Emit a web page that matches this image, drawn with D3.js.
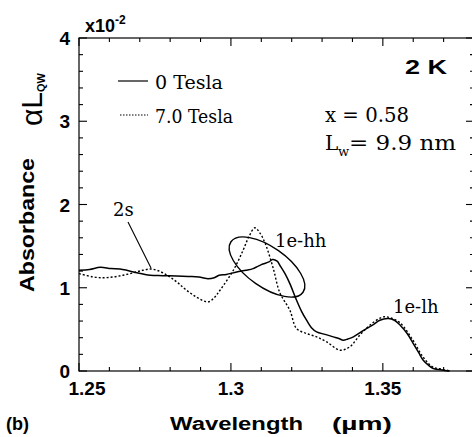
<!DOCTYPE html>
<html>
<head>
<meta charset="utf-8">
<script src="https://cdn.jsdelivr.net/npm/d3@7"></script>
<style>
  body { margin: 0; background: #fff; }
  svg { display: block; }
  .sans { font-family: "Liberation Sans", Arial, sans-serif; font-weight: bold; }
  .serif { font-family: "DejaVu Serif", "Liberation Serif", serif; }
</style>
</head>
<body>
<svg width="472" height="437"></svg>
<script>
// Chart size and plot frame
const width = 472;
const height = 437;
const margin = { left: 79, top: 38, right: 474, bottom: 371 };

// 0 Tesla curve (solid), wavelength in um, absorbance in units of 1e-2
const wl0 = [1.25, 1.2535, 1.257, 1.2605, 1.2635, 1.2657, 1.269, 1.2734, 1.2775, 1.2821, 1.286, 1.2895, 1.292, 1.2945, 1.2961, 1.2985, 1.3019, 1.305, 1.3073, 1.309, 1.3105, 1.3125, 1.3137, 1.3152, 1.3161, 1.3178, 1.3194, 1.3216, 1.3232, 1.3249, 1.3265, 1.3282, 1.331, 1.3337, 1.3355, 1.337, 1.3385, 1.3403, 1.3425, 1.3446, 1.347, 1.349, 1.3518, 1.3538, 1.3557, 1.358, 1.36, 1.3618, 1.3633, 1.365, 1.3666, 1.37, 1.372];
const abs0 = [1.21, 1.22, 1.245, 1.23, 1.225, 1.21, 1.18, 1.15, 1.145, 1.14, 1.135, 1.13, 1.11, 1.12, 1.15, 1.16, 1.19, 1.21, 1.23, 1.26, 1.285, 1.31, 1.34, 1.32, 1.27, 1.17, 1.05, 0.85, 0.72, 0.61, 0.52, 0.47, 0.44, 0.41, 0.39, 0.37, 0.385, 0.41, 0.46, 0.51, 0.56, 0.61, 0.63, 0.61, 0.55, 0.45, 0.33, 0.22, 0.13, 0.07, 0.03, 0.01, 0.0];

// 7.0 Tesla curve (dotted)
const wl7 = [1.25, 1.2547, 1.258, 1.2613, 1.2645, 1.2679, 1.271, 1.2739, 1.277, 1.2799, 1.2825, 1.2854, 1.289, 1.2925, 1.2945, 1.2964, 1.3008, 1.304, 1.306, 1.3079, 1.3095, 1.3112, 1.3138, 1.3161, 1.3194, 1.3216, 1.3249, 1.3282, 1.3315, 1.3359, 1.3391, 1.3424, 1.3457, 1.3501, 1.3523, 1.3556, 1.3599, 1.3632, 1.3664, 1.3697, 1.372];
const abs7 = [1.17, 1.13, 1.12, 1.13, 1.15, 1.18, 1.21, 1.225, 1.19, 1.13, 1.06, 0.97, 0.88, 0.83, 0.88, 0.97, 1.21, 1.45, 1.62, 1.72, 1.66, 1.54, 1.25, 0.94, 0.73, 0.51, 0.45, 0.41, 0.35, 0.25, 0.29, 0.43, 0.55, 0.65, 0.64, 0.58, 0.37, 0.17, 0.05, 0.02, 0.0];

// Axis ticks
const xMajor = [1.25, 1.3, 1.35];
const yMajor = [0, 1, 2, 3, 4];

const svg = d3.select("svg");

const x = d3.scaleLinear().domain([1.25, 1.38]).range([margin.left, margin.right]);
const y = d3.scaleLinear().domain([0, 4]).range([margin.bottom, margin.top]);

// Frame
svg.append("rect")
    .attr("x", x(1.25)).attr("y", y(4))
    .attr("width", x(1.38) - x(1.25)).attr("height", y(0) - y(4))
    .attr("fill", "none").attr("stroke", "#000").attr("stroke-width", 1.2);

// Ticks on all four sides, pointing inward
const xMinor = d3.range(1.25, 1.3801, 0.01);
const yMinor = d3.range(0, 4.001, 0.2);
const isMajorX = v => xMajor.some(m => Math.abs(m - v) < 1e-6);
const isMajorY = v => yMajor.some(m => Math.abs(m - v) < 1e-6);

const tickG = svg.append("g").attr("stroke", "#000").attr("stroke-width", 1.1);
xMinor.forEach(v => {
    const len = isMajorX(v) ? 8 : 4;
    tickG.append("line").attr("x1", x(v)).attr("x2", x(v)).attr("y1", y(0)).attr("y2", y(0) - len);
    tickG.append("line").attr("x1", x(v)).attr("x2", x(v)).attr("y1", y(4)).attr("y2", y(4) + len);
});
yMinor.forEach(v => {
    const len = isMajorY(v) ? 8 : 4;
    tickG.append("line").attr("x1", x(1.25)).attr("x2", x(1.25) + len).attr("y1", y(v)).attr("y2", y(v));
    tickG.append("line").attr("x1", x(1.38)).attr("x2", x(1.38) - len).attr("y1", y(v)).attr("y2", y(v));
});

// Tick labels
svg.append("g").selectAll("text").data(xMajor).join("text")
    .attr("class", "sans")
    .attr("x", d => x(d) + (d === 1.25 ? 8 : 0))
    .attr("y", 395)
    .attr("text-anchor", "middle")
    .style("font-size", "19px")
    .text(d => d3.format("")(d));

svg.append("g").selectAll("text").data(yMajor).join("text")
    .attr("class", "sans")
    .attr("x", 70)
    .attr("y", d => y(d) + 7)
    .attr("text-anchor", "end")
    .style("font-size", "19px")
    .text(d => d);

// x10^-2 multiplier
const mult = svg.append("text").attr("class", "sans").attr("x", 85).attr("y", 32).style("font-size", "18px");
mult.append("tspan").text("x10");
mult.append("tspan").attr("dy", -8).style("font-size", "12px").text("-2");

// Axis titles
svg.append("text").attr("class", "sans")
    .attr("transform", "translate(34,225) rotate(-90)")
    .attr("text-anchor", "middle")
    .style("font-size", "21px")
    .attr("textLength", 134).attr("lengthAdjust", "spacingAndGlyphs")
    .text("Absorbance");

const aL = svg.append("text")
    .attr("transform", "translate(42,126) rotate(-90)")
    .style("font-family", "\"Liberation Sans\", Arial, sans-serif")
    .style("font-size", "30px");
aL.append("tspan").text("\u03b1L");
aL.append("tspan").attr("dy", 3).style("font-size", "11px").style("font-weight", "bold").text("QW");

svg.append("text").attr("class", "sans")
    .attr("x", 170).attr("y", 430)
    .style("font-size", "18px")
    .attr("textLength", 133).attr("lengthAdjust", "spacingAndGlyphs")
    .text("Wavelength");
svg.append("text").attr("class", "sans")
    .attr("x", 332).attr("y", 430)
    .style("font-size", "18px")
    .attr("textLength", 60).attr("lengthAdjust", "spacingAndGlyphs")
    .text("(\u00b5m)");
svg.append("text").attr("class", "sans")
    .attr("x", 6).attr("y", 430)
    .style("font-size", "18px")
    .text("(b)");

// Curves
const line = d3.line().x(d => x(d[0])).y(d => y(d[1])).curve(d3.curveCatmullRom);
const plot = svg.append("g");
plot.append("path")
    .datum(d3.zip(wl0, abs0))
    .attr("d", line)
    .attr("fill", "none").attr("stroke", "#000").attr("stroke-width", 1.5);
plot.append("path")
    .datum(d3.zip(wl7, abs7))
    .attr("d", line)
    .attr("fill", "none").attr("stroke", "#000").attr("stroke-width", 1.4)
    .attr("stroke-dasharray", "2,2");

// Legend
const legend = svg.append("g");
legend.append("line").attr("x1", 118).attr("x2", 148).attr("y1", 81).attr("y2", 81)
    .attr("stroke", "#000").attr("stroke-width", 1.2);
legend.append("line").attr("x1", 120).attr("x2", 148).attr("y1", 115).attr("y2", 115)
    .attr("stroke", "#000").attr("stroke-width", 1.2).attr("stroke-dasharray", "1.5,1.5");
legend.append("text").attr("class", "serif").attr("x", 155).attr("y", 89).style("font-size", "19px")
    .attr("textLength", 68).attr("lengthAdjust", "spacingAndGlyphs").text("0 Tesla");
legend.append("text").attr("class", "serif").attr("x", 155).attr("y", 123).style("font-size", "19px")
    .attr("textLength", 78).attr("lengthAdjust", "spacingAndGlyphs").text("7.0 Tesla");

// Annotations
svg.append("text").attr("class", "sans").attr("x", 405).attr("y", 74).style("font-size", "20px")
    .attr("textLength", 42).attr("lengthAdjust", "spacingAndGlyphs").text("2 K");
svg.append("text").attr("class", "serif").attr("x", 325).attr("y", 122).style("font-size", "20px")
    .attr("textLength", 84).attr("lengthAdjust", "spacingAndGlyphs").text("x = 0.58");
svg.append("text").attr("class", "serif").attr("x", 325).attr("y", 150).style("font-size", "20px").text("L");
svg.append("text").attr("class", "serif").attr("x", 338).attr("y", 156).style("font-size", "13px").text("w");
svg.append("text").attr("class", "serif").attr("x", 349).attr("y", 150).style("font-size", "20px")
    .attr("textLength", 107).attr("lengthAdjust", "spacingAndGlyphs").text("= 9.9 nm");

svg.append("text").attr("class", "serif").attr("x", 113).attr("y", 216).style("font-size", "18px").text("2s");
svg.append("line").attr("x1", 128).attr("y1", 222).attr("x2", 151).attr("y2", 268)
    .attr("stroke", "#000").attr("stroke-width", 1.1);

svg.append("text").attr("class", "serif").attr("x", 275).attr("y", 247).style("font-size", "18px").text("1e-hh");
svg.append("ellipse")
    .attr("cx", 267).attr("cy", 267).attr("rx", 44).attr("ry", 20)
    .attr("transform", "rotate(35,267,267)")
    .attr("fill", "none").attr("stroke", "#000").attr("stroke-width", 1.4);

svg.append("text").attr("class", "serif").attr("x", 393).attr("y", 313).style("font-size", "18px").text("1e-lh");
</script>
</body>
</html>
